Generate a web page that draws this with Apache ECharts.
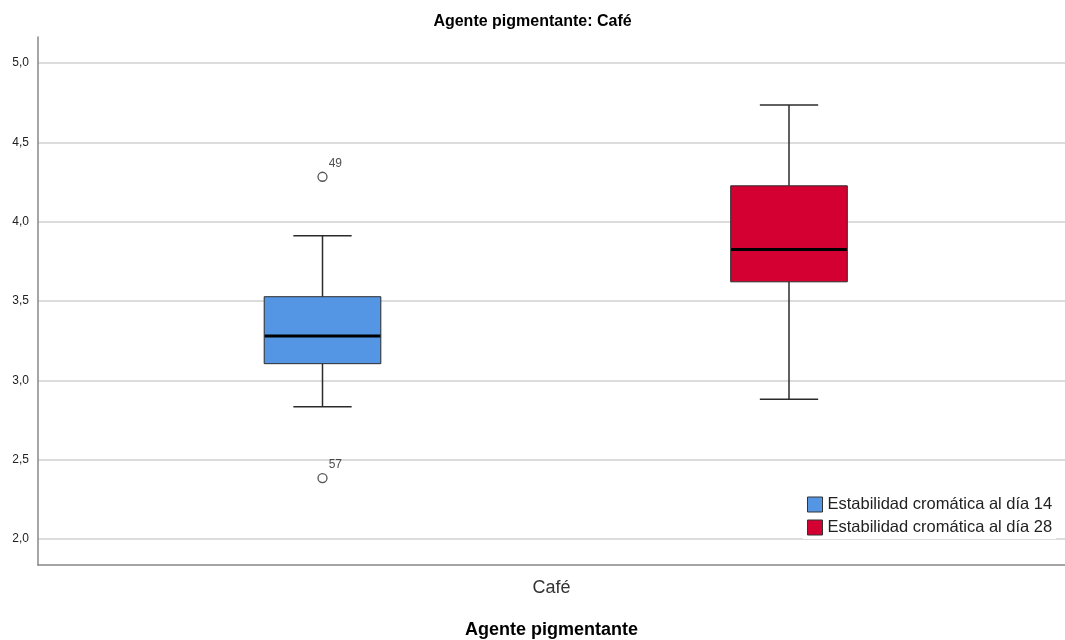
<!DOCTYPE html>
<html>
<head>
<meta charset="utf-8">
<script src="https://cdn.jsdelivr.net/npm/echarts@6/dist/echarts.min.js"></script>
<style>
html,body{margin:0;padding:0;background:#fff;}
#chart{width:1065px;height:640px;}
</style>
</head>
<body>
<div id="chart"></div>
<script>
// ---- data ----
const chartTitle = 'Agente pigmentante: Café';
const categories = ['Café'];
const seriesNames = ['Estabilidad cromática al día 14', 'Estabilidad cromática al día 28'];
const seriesColors = ['#5596e4', '#d50032'];
// [low whisker, Q1, median, Q3, high whisker]
const box14 = [2.834, 3.105, 3.279, 3.527, 3.911];
const box28 = [2.880, 3.621, 3.825, 4.226, 4.735];
// outliers of day 14: [value, case label]
const outliers14 = [[4.283, '49'], [2.384, '57']];
const yMin = 1.836, yMax = 5.164;

const chart = echarts.init(document.getElementById('chart'));
const FONT = 'Liberation Sans, Arial, sans-serif';

function renderBox(params, api) {
  const x = api.value(0);
  const lo = api.coord([x, api.value(1)]);
  const q1 = api.coord([x, api.value(2)]);
  const med = api.coord([x, api.value(3)]);
  const q3 = api.coord([x, api.value(4)]);
  const hi = api.coord([x, api.value(5)]);
  const bw = api.size([1, 0])[0] * 0.25;
  const cx = lo[0];
  const fill = api.visual('color');
  const wStyle = {stroke: '#2b2b2b', lineWidth: 1.5};
  return {
    type: 'group',
    children: [
      {type: 'line', shape: {x1: cx, y1: hi[1], x2: cx, y2: q3[1]}, style: wStyle},
      {type: 'line', shape: {x1: cx, y1: q1[1], x2: cx, y2: lo[1]}, style: wStyle},
      {type: 'line', shape: {x1: cx - bw / 4, y1: hi[1], x2: cx + bw / 4, y2: hi[1]}, style: wStyle},
      {type: 'line', shape: {x1: cx - bw / 4, y1: lo[1], x2: cx + bw / 4, y2: lo[1]}, style: wStyle},
      {type: 'rect', shape: {x: cx - bw / 2, y: q3[1], width: bw, height: q1[1] - q3[1]},
        style: {fill: fill, stroke: '#2b2b2b', lineWidth: 1}},
      {type: 'line', shape: {x1: cx - bw / 2 + 0.5, y1: med[1], x2: cx + bw / 2 - 0.5, y2: med[1]},
        style: {stroke: '#000', lineWidth: 3}}
    ]
  };
}

const fmt = v => v.toFixed(1).replace('.', ',');

const option = {
  backgroundColor: '#fff',
  animation: false,
  title: {
    text: chartTitle, left: 'center', top: 14, padding: 0,
    textStyle: {fontFamily: FONT, fontSize: 16, fontWeight: 'bold', color: '#000'}
  },
  legend: {
    orient: 'vertical', left: 803, top: 493,
    padding: [3, 4, 3, 4], itemGap: 6,
    backgroundColor: '#fff',
    icon: 'rect', itemWidth: 15, itemHeight: 15,
    itemStyle: {borderColor: '#333', borderWidth: 1},
    textStyle: {fontFamily: FONT, fontSize: 16.5, color: '#222'},
    data: seriesNames.map((n, i) => ({name: n, itemStyle: {color: seriesColors[i]}}))
  },
  grid: [
    {left: 38, right: 0, top: 37, bottom: 75, containLabel: false, outerBoundsMode: 'none'},
    {left: 89.25, right: 42.75, top: 37, bottom: 75, containLabel: false, outerBoundsMode: 'none'}
  ],
  xAxis: [
    {
      type: 'category', gridIndex: 0, data: categories,
      axisLine: {show: true, lineStyle: {color: '#888', width: 1.5}},
      axisTick: {show: false},
      axisLabel: {fontFamily: FONT, fontSize: 18, color: '#333', margin: 14},
      name: 'Agente pigmentante', nameLocation: 'middle', nameGap: 56,
      nameTextStyle: {fontFamily: FONT, fontSize: 18, fontWeight: 'bold', color: '#000'}
    },
    {
      type: 'category', gridIndex: 1, data: ['14', '28'], show: false
    }
  ],
  yAxis: [
    {
      type: 'value', gridIndex: 0, min: yMin, max: yMax,
      minInterval: 0.5, maxInterval: 0.5,
      axisLine: {show: true, lineStyle: {color: '#888', width: 1.5}},
      axisTick: {show: false},
      axisLabel: {fontFamily: FONT, fontSize: 12, color: '#222', margin: 9,
        showMinLabel: false, showMaxLabel: false, formatter: fmt},
      splitLine: {show: true, showMinLine: false, showMaxLine: false,
        lineStyle: {color: '#d0d0d0', width: 1.5}}
    },
    {
      type: 'value', gridIndex: 1, min: yMin, max: yMax, show: false,
      splitLine: {show: false}
    }
  ],
  series: [
    {
      name: seriesNames[0], type: 'custom', xAxisIndex: 1, yAxisIndex: 1,
      itemStyle: {color: seriesColors[0]},
      encode: {x: 0, y: [1, 2, 3, 4, 5]},
      renderItem: renderBox,
      data: [[0].concat(box14)]
    },
    {
      name: seriesNames[1], type: 'custom', xAxisIndex: 1, yAxisIndex: 1,
      itemStyle: {color: seriesColors[1]},
      encode: {x: 0, y: [1, 2, 3, 4, 5]},
      renderItem: renderBox,
      data: [[1].concat(box28)]
    },
    {
      name: 'outliers', type: 'scatter', xAxisIndex: 1, yAxisIndex: 1,
      symbol: 'circle', symbolSize: 9,
      itemStyle: {color: '#fff', borderColor: '#2b2b2b', borderWidth: 1.3},
      label: {
        show: true, position: 'right', distance: 1, offset: [0, -13],
        fontFamily: FONT, fontSize: 12, color: '#222',
        formatter: p => p.value[2]
      },
      data: outliers14.map(o => [0, o[0], o[1]])
    }
  ]
};
chart.setOption(option);
</script>
</body>
</html>
